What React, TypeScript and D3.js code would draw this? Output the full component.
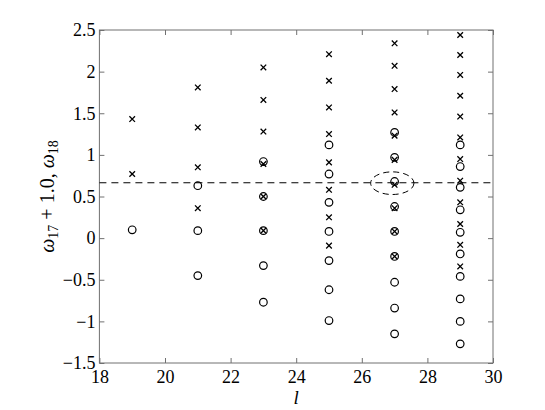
import * as d3 from 'd3';
import { useEffect, useRef } from 'react';

// l values (columns) and the two eigenvalue series
const lValues = [19, 21, 23, 25, 27, 29];

// omega_17 + 1.0  (x markers)
const omega17 = [
  [1.43, 0.77],
  [1.81, 1.33, 0.85, 0.36],
  [2.05, 1.66, 1.28, 0.89, 0.50, 0.09],
  [2.21, 1.89, 1.57, 1.25, 0.91, 0.58, 0.25, -0.09],
  [2.34, 2.07, 1.79, 1.51, 1.23, 0.94, 0.64, 0.36, 0.08, -0.22],
  [2.44, 2.20, 1.96, 1.71, 1.46, 1.21, 0.95, 0.69, 0.43, 0.17, -0.08, -0.34],
];

// omega_18 (circles)
const omega18 = [
  [0.10],
  [0.63, 0.09, -0.45],
  [0.92, 0.50, 0.09, -0.33, -0.77],
  [1.12, 0.77, 0.43, 0.08, -0.27, -0.62, -0.99],
  [1.27, 0.97, 0.68, 0.38, 0.08, -0.22, -0.53, -0.84, -1.15],
  [1.12, 0.86, 0.61, 0.34, 0.07, -0.19, -0.46, -0.73, -1.0, -1.27],
];

const xTicks = [18, 20, 22, 24, 26, 28, 30];
const yTicks = [-1.5, -1, -0.5, 0, 0.5, 1, 1.5, 2, 2.5];
const refLevel = 0.665;
const highlight = { l: 26.93, w: 0.66, rl: 0.66, rw: 0.136 };

export default function App() {
  const svgRef = useRef<SVGSVGElement>(null);

  useEffect(() => {
    drawChart(svgRef.current as SVGSVGElement);
  }, []);

  return (
    <svg
      ref={svgRef}
      width={545}
      height={410}
      style={{ position: 'absolute', left: 0, top: 0, background: '#fff' }}
    />
  );
}

function drawChart(node: SVGSVGElement) {
  const left = 99.4, right = 493, top = 30, bottom = 363;
  const axisColor = '#707070';
  const font = 'Liberation Serif, Times New Roman, serif';

  const svg = d3.select(node);
  svg.selectAll('*').remove();

  const x = d3.scaleLinear().domain([18, 30]).range([left, right]);
  const y = d3.scaleLinear().domain([-1.5, 2.5]).range([bottom, top]);

  const fmt = (d: d3.NumberValue) => {
    const v = +d;
    return v < 0 ? '\u2212' + Math.abs(v) : String(v);
  };

  // bottom axis with labels
  const gx = svg.append('g')
    .attr('transform', `translate(0,${bottom})`)
    .call(d3.axisBottom(x).tickValues(xTicks).tickSize(-5).tickPadding(7).tickFormat(fmt));
  // left axis with labels
  const gy = svg.append('g')
    .attr('transform', `translate(${left},0)`)
    .call(d3.axisLeft(y).tickValues(yTicks).tickSize(-5).tickPadding(4).tickFormat(fmt));
  // top / right mirrored ticks
  const gt = svg.append('g')
    .attr('transform', `translate(0,${top})`)
    .call(d3.axisTop(x).tickValues(xTicks).tickSize(-5).tickFormat(() => ''));
  const gr = svg.append('g')
    .attr('transform', `translate(${right},0)`)
    .call(d3.axisRight(y).tickValues(yTicks).tickSize(-5).tickFormat(() => ''));

  [gx, gy, gt, gr].forEach(g => {
    g.attr('font-family', font).attr('font-size', 18);
    g.select('.domain').remove();
    g.selectAll('line').attr('stroke', axisColor);
    g.selectAll('text').attr('fill', '#000');
  });

  svg.append('rect')
    .attr('x', left).attr('y', top)
    .attr('width', right - left).attr('height', bottom - top)
    .attr('fill', 'none').attr('stroke', axisColor).attr('stroke-width', 1);

  // dashed reference line
  svg.append('line')
    .attr('x1', x(18)).attr('x2', x(30))
    .attr('y1', y(refLevel)).attr('y2', y(refLevel))
    .attr('stroke', '#000').attr('stroke-width', 1)
    .attr('stroke-dasharray', '7,5');

  // dashed ellipse
  svg.append('ellipse')
    .attr('cx', x(highlight.l)).attr('cy', y(highlight.w))
    .attr('rx', x(highlight.l + highlight.rl) - x(highlight.l))
    .attr('ry', y(highlight.w) - y(highlight.w + highlight.rw))
    .attr('fill', 'none').attr('stroke', '#000').attr('stroke-width', 1)
    .attr('stroke-dasharray', '6,4');

  const crosses = lValues.flatMap((l, i) => omega17[i].map(w => [l, w]));
  const circles = lValues.flatMap((l, i) => omega18[i].map(w => [l, w]));

  const cs = 2.8;
  svg.append('g').selectAll('path')
    .data(crosses)
    .enter()
    .append('path')
    .attr('d', d => {
      const cx = x(d[0]), cy = y(d[1]);
      return `M${cx - cs},${cy - cs}L${cx + cs},${cy + cs}M${cx - cs},${cy + cs}L${cx + cs},${cy - cs}`;
    })
    .attr('stroke', '#000').attr('stroke-width', 1.3).attr('fill', 'none');

  svg.append('g').selectAll('circle')
    .data(circles)
    .enter()
    .append('circle')
    .attr('cx', d => x(d[0]))
    .attr('cy', d => y(d[1]))
    .attr('r', 3.8)
    .attr('fill', 'none').attr('stroke', '#000').attr('stroke-width', 1.2);

  // x label
  svg.append('text')
    .attr('x', (left + right) / 2).attr('y', 404)
    .attr('text-anchor', 'middle')
    .attr('font-family', font).attr('font-style', 'italic').attr('font-size', 19)
    .text('l');

  // y label
  const yl = svg.append('text')
    .attr('transform', `translate(54,${(top + bottom) / 2}) rotate(-90)`)
    .attr('text-anchor', 'middle')
    .attr('font-family', font).attr('font-size', 20);
  yl.append('tspan').attr('font-style', 'italic').text('\u03c9');
  yl.append('tspan').attr('font-size', 14).attr('dy', 4).text('17');
  yl.append('tspan').attr('dy', -4).text(' + 1.0, ');
  yl.append('tspan').attr('font-style', 'italic').text('\u03c9');
  yl.append('tspan').attr('font-size', 14).attr('dy', 4).text('18');
}
